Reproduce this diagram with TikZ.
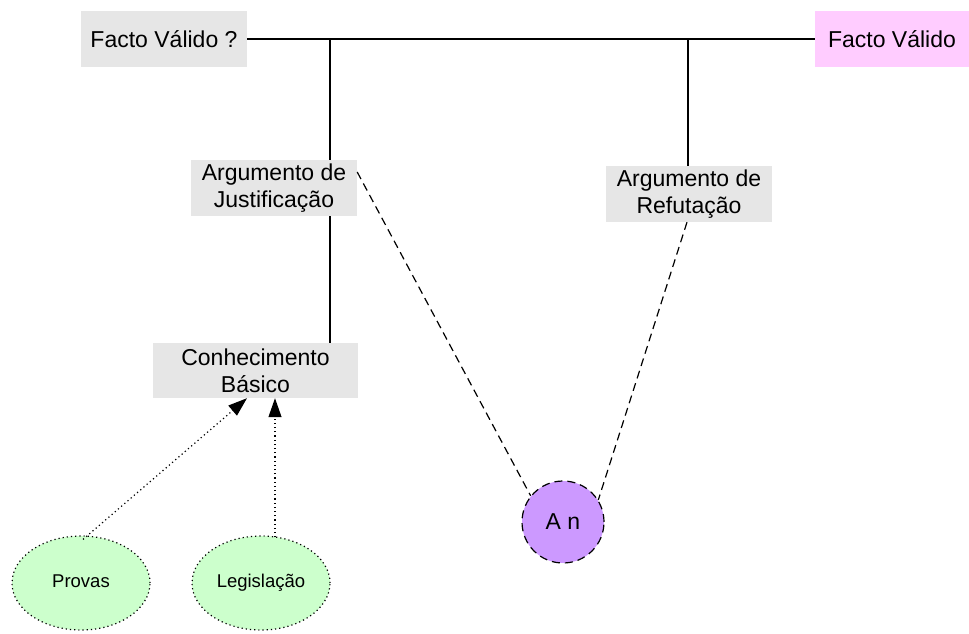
\documentclass[tikz,border=0pt]{standalone}
\usepackage{fontspec}
\setmainfont{Liberation Sans}
\usetikzlibrary{arrows.meta,shapes.geometric}
\definecolor{boxgray}{HTML}{E6E6E6}
\definecolor{boxpink}{HTML}{FFCCFF}
\definecolor{anpurple}{HTML}{CC99FF}
\definecolor{ellgreen}{HTML}{CCFFCC}
\begin{document}
\begin{tikzpicture}[x=1pt,y=-1pt,
  txt/.style={font=\fontsize{23}{27}\selectfont},
  graybox/.style={txt,fill=boxgray,inner sep=0pt,minimum height=56pt,align=center},
  pinkbox/.style={txt,fill=boxpink,inner sep=0pt,minimum height=56pt,align=center},
  solidline/.style={line width=1.3pt},
  dashline/.style={line width=1.2pt,dash pattern=on 8pt off 5pt},
  dotline/.style={line width=1.2pt,dash pattern=on 1.2pt off 3pt},
  srcell/.style={ellipse,draw,dotline,fill=ellgreen,minimum width=138pt,minimum height=94pt,inner sep=0pt,text height=13.5pt,text depth=4pt,font=\fontsize{18.5}{22}\selectfont},
  tip/.style={-{Triangle[length=19pt,width=13pt]}}
]
\useasboundingbox (0,0) rectangle (969,633);
\node[graybox,minimum width=166pt] (fq) at (164,39) {Facto Válido ?};
\node[pinkbox,minimum width=154pt] (fv) at (892,39) {Facto Válido};
\node[graybox,minimum width=166pt] (jus) at (274,188) {Argumento de\\Justificação};
\node[graybox,minimum width=166pt] (ref) at (689,194) {Argumento de\\Refutação};
\node[graybox,minimum width=205pt,minimum height=55pt] (kb) at (255.5,370.5) {Conhecimento\\Básico};
\node[circle,draw,dashline,fill=anpurple,minimum size=82pt,inner sep=0pt,txt] (an) at (563,522) {A n};
\node[srcell] (prov) at (81,583) {Provas};
\node[srcell] (leg) at (261,583) {Legislação};
\coordinate (j1) at (330,39);
\coordinate (r1) at (688,39);
\draw[solidline] (fq.east) -- (fv.west);
\draw[solidline] (j1) -- (j1 |- jus.north);
\draw[solidline] (jus.south -| j1) -- (j1 |- kb.north);
\draw[solidline] (r1) -- (r1 |- ref.north);
\draw[dashline] ([yshift=16pt]jus.east) -- (an.141);
\draw[dashline] ([xshift=-2pt]ref.south) -- (an.32);
\draw[dotline,tip] ([xshift=2pt,yshift=-4pt]prov.north) -- ([xshift=-8.5pt]kb.south);
\draw[dotline,tip] ([xshift=14pt,yshift=-2pt]leg.north) -- ([xshift=14pt]leg.north |- kb.south);
\end{tikzpicture}
\end{document}
